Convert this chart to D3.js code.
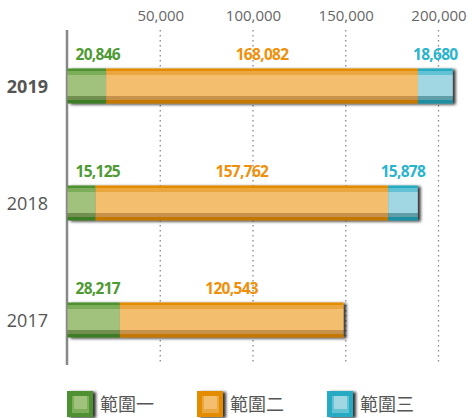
<!DOCTYPE html>
<html>
<head>
<meta charset="utf-8">
<script src="https://cdn.jsdelivr.net/npm/d3@7"></script>
<style>
  html, body { margin: 0; padding: 0; background: #fff; }
  svg { display: block; font-family: "Open Sans", "Noto Sans", sans-serif; }
</style>
</head>
<body>
<svg id="chart" width="472" height="418"></svg>
<script>
const years = ["2019", "2018", "2017"];
const seriesNames = ["範圍一", "範圍二", "範圍三"];
const scope1 = [20846, 15125, 28217];
const scope2 = [168082, 157762, 120543];
const scope3 = [18680, 15878, null];
const tickValues = [50000, 100000, 150000, 200000];

// colour bands for the tube look: top, upper, body, lower, bottom
const palette = [
    { text: "#4e9a33", top: "#4d9130", upper: "#7cae5a", body: "#a0c27c", lower: "#6f8f50", bottom: "#3e7d26" },
    { text: "#f0900a", top: "#e38c00", upper: "#eaa740", body: "#f3bf6e", lower: "#c6924c", bottom: "#c47800" },
    { text: "#2ab4cc", top: "#27abc2", upper: "#62c1d2", body: "#a0d7e3", lower: "#5f9ea9", bottom: "#1f8fa3" }
];

const svg = d3.select("#chart");
const defs = svg.append("defs");

const x = d3.scaleLinear().domain([0, 200000]).range([67.5, 438.5]);
const y = d3.scaleBand().domain(years).range([27.5, 378.5])
    .paddingInner(0.7).paddingOuter(0.35);

// drop shadow
const shadow = defs.append("filter").attr("id", "shadow")
    .attr("x", "-10%").attr("y", "-30%").attr("width", "130%").attr("height", "170%");
shadow.append("feDropShadow")
    .attr("dx", 3).attr("dy", 1).attr("stdDeviation", 1.8)
    .attr("flood-color", "#000").attr("flood-opacity", 0.8);

palette.forEach((p, i) => {
    const g = defs.append("linearGradient").attr("id", "grad" + i)
        .attr("x1", 0).attr("y1", 0).attr("x2", 0).attr("y2", 1);
    const stops = [
        [0, p.top], [0.085, p.top], [0.085, p.upper], [0.2, p.upper],
        [0.2, p.body], [0.78, p.body], [0.78, p.lower], [0.89, p.lower],
        [0.89, p.bottom], [1, p.bottom]
    ];
    stops.forEach(s => g.append("stop").attr("offset", s[0]).attr("stop-color", s[1]));
});

// grid lines
svg.append("g").selectAll("line")
    .data(tickValues)
    .join("line")
    .attr("x1", d => x(d)).attr("x2", d => x(d))
    .attr("y1", 30).attr("y2", 364)
    .attr("stroke", "#888")
    .attr("stroke-width", 1.3)
    .attr("stroke-dasharray", "1.5,3.5");

// top tick labels
const axis = svg.append("g")
    .attr("transform", "translate(0,24)")
    .call(d3.axisTop(x).tickValues(tickValues).tickFormat(d3.format(",")).tickSize(0).tickPadding(3));
axis.select(".domain").remove();
axis.selectAll("text")
    .attr("fill", "#666")
    .style("font-size", "15px")
    .style("font-family", "'Open Sans', sans-serif");

// left axis line
svg.append("line")
    .attr("x1", 67).attr("x2", 67)
    .attr("y1", 30).attr("y2", 365)
    .attr("stroke", "#888").attr("stroke-width", 2.5);

// bars
const rows = years.map((yr, i) => {
    const vals = [scope1[i], scope2[i], scope3[i]];
    let acc = 0;
    const segs = [];
    vals.forEach((v, s) => {
        if (v == null) return;
        segs.push({ s, v, yr, x0: acc, x1: acc + v });
        acc += v;
    });
    return { yr, segs };
});

const rowG = svg.append("g").selectAll("g")
    .data(rows)
    .join("g");

rowG.append("g")
    .attr("filter", "url(#shadow)")
    .selectAll("rect")
    .data(d => d.segs)
    .join("rect")
    .attr("x", d => x(d.x0))
    .attr("width", d => x(d.x1) - x(d.x0))
    .attr("y", d => y(d.yr))
    .attr("height", y.bandwidth())
    .attr("fill", d => `url(#grad${d.s})`);

// value labels
rowG.selectAll("text.val")
    .data(d => d.segs)
    .join("text")
    .attr("class", "val")
    .attr("x", d => d.s === 0 ? x(0) + 8 : (x(d.x0) + x(d.x1)) / 2)
    .attr("y", d => y(d.yr) - 8.5)
    .attr("text-anchor", d => d.s === 0 ? "start" : "middle")
    .attr("fill", d => palette[d.s].text)
    .style("font-size", "15.5px")
    .style("font-weight", "700")
    .style("letter-spacing", "-0.7px")
    .text(d => d3.format(",")(d.v));

// year labels
svg.append("g").selectAll("text")
    .data(years)
    .join("text")
    .attr("x", 48)
    .attr("y", d => y(d) + y.bandwidth() / 2 + 6.5)
    .attr("text-anchor", "end")
    .attr("fill", "#555")
    .style("font-size", "18px")
    .style("font-weight", (d, i) => i === 0 ? "700" : "400")
    .text(d => d);

// legend
const legend = svg.append("g").selectAll("g")
    .data(seriesNames)
    .join("g")
    .attr("transform", (d, i) => `translate(${67 + i * 130},391)`);

legend.append("rect")
    .attr("width", 26).attr("height", 26)
    .attr("fill", (d, i) => palette[i].top)
    .attr("filter", "url(#shadow)");
legend.append("rect")
    .attr("x", 5).attr("y", 5).attr("width", 17).attr("height", 17)
    .attr("fill", (d, i) => palette[i].upper);
legend.append("rect")
    .attr("x", 7).attr("y", 5).attr("width", 13).attr("height", 13)
    .attr("fill", (d, i) => palette[i].body);
legend.append("text")
    .attr("x", 33).attr("y", 20)
    .attr("fill", "#555")
    .style("font-size", "18px")
    .style("font-family", "'Noto Sans CJK TC', sans-serif")
    .text(d => d);
</script>
</body>
</html>
